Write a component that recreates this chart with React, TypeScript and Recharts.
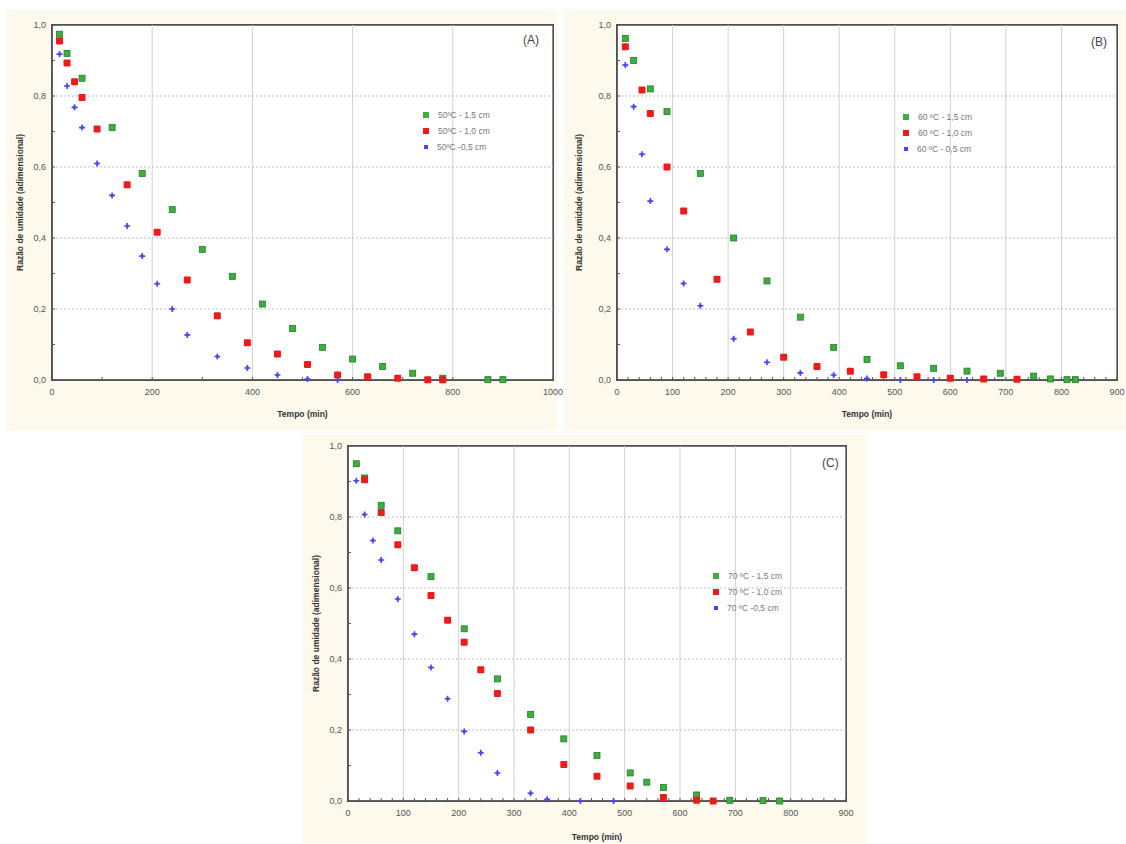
import { ScatterChart, Scatter, XAxis, YAxis, Legend, ReferenceLine, ReferenceArea } from "recharts"

// ---- Painel (A) 50 ºC ----
const tempoA15 = [15, 30, 60, 120, 180, 240, 300, 360, 420, 480, 540, 600, 660, 720, 780, 870, 900]
const razaoA15 = [0.974, 0.92, 0.85, 0.711, 0.582, 0.48, 0.368, 0.292, 0.214, 0.145, 0.092, 0.059, 0.038, 0.019, 0.005, 0.001, 0.001]
const tempoA10 = [15, 30, 45, 60, 90, 150, 210, 270, 330, 390, 450, 510, 570, 630, 690, 750, 780]
const razaoA10 = [0.955, 0.893, 0.84, 0.796, 0.707, 0.55, 0.416, 0.282, 0.181, 0.105, 0.073, 0.044, 0.014, 0.009, 0.005, 0.001, 0.001]
const tempoA05 = [15, 30, 45, 60, 90, 120, 150, 180, 210, 240, 270, 330, 390, 450, 510, 570]
const razaoA05 = [0.918, 0.828, 0.768, 0.711, 0.61, 0.52, 0.434, 0.349, 0.271, 0.2, 0.127, 0.066, 0.034, 0.014, 0.003, 0.0]

// ---- Painel (B) 60 ºC ----
const tempoB15 = [15, 30, 60, 90, 150, 210, 270, 330, 390, 450, 510, 570, 630, 690, 750, 780, 810, 825]
const razaoB15 = [0.962, 0.9, 0.82, 0.756, 0.582, 0.4, 0.279, 0.177, 0.092, 0.058, 0.04, 0.033, 0.025, 0.019, 0.011, 0.003, 0.001, 0.001]
const tempoB10 = [15, 45, 60, 90, 120, 180, 240, 300, 360, 420, 480, 540, 600, 660, 720]
const razaoB10 = [0.939, 0.817, 0.751, 0.6, 0.476, 0.284, 0.135, 0.064, 0.038, 0.025, 0.015, 0.009, 0.005, 0.003, 0.002]
const tempoB05 = [15, 30, 45, 60, 90, 120, 150, 210, 270, 330, 390, 450, 510, 570, 630]
const razaoB05 = [0.887, 0.77, 0.636, 0.504, 0.368, 0.272, 0.209, 0.116, 0.05, 0.02, 0.014, 0.004, 0.0, 0.0, 0.0]

// ---- Painel (C) 70 ºC ----
const tempoC15 = [15, 30, 60, 90, 150, 210, 270, 330, 390, 450, 510, 540, 570, 630, 690, 750, 780]
const razaoC15 = [0.95, 0.91, 0.833, 0.761, 0.632, 0.485, 0.344, 0.244, 0.175, 0.128, 0.079, 0.053, 0.038, 0.017, 0.002, 0.001, 0.0]
const tempoC10 = [30, 60, 90, 120, 150, 180, 210, 240, 270, 330, 390, 450, 510, 570, 630, 660]
const razaoC10 = [0.905, 0.813, 0.722, 0.657, 0.579, 0.509, 0.447, 0.37, 0.303, 0.2, 0.103, 0.07, 0.042, 0.01, 0.002, 0.0]
const tempoC05 = [15, 30, 45, 60, 90, 120, 150, 180, 210, 240, 270, 330, 360, 420, 480]
const razaoC05 = [0.902, 0.807, 0.734, 0.679, 0.569, 0.47, 0.376, 0.288, 0.196, 0.136, 0.079, 0.022, 0.005, 0.0, 0.0]

// ---- eixos ----
const xTicksA = [0, 200, 400, 600, 800, 1000]
const xMinorA = [0, 100, 200, 300, 400, 500, 600, 700, 800, 900, 1000]
const xTicksBC = [0, 100, 200, 300, 400, 500, 600, 700, 800, 900]
const yTicks = [0, 0.2, 0.4, 0.6, 0.8, 1.0]
const yMinor = [0, 0.1, 0.2, 0.3, 0.4, 0.5, 0.6, 0.7, 0.8, 0.9, 1.0]

const legendA = ["50ºC - 1,5 cm", "50ºC - 1,0 cm", "50ºC -0,5 cm"]
const legendB = ["60 ºC - 1,5 cm", "60 ºC - 1,0 cm", "60 ºC - 0,5 cm"]
const legendC = ["70 ºC - 1,5 cm", "70 ºC - 1,0 cm", "70 ºC -0,5 cm"]

const CREAM = "#fdf9ec"
const GREEN = "#3fae3f"
const RED = "#f01a1a"
const BLUE = "#4646ff"
const FONT = "'Liberation Sans', Arial, sans-serif"

const range = (max: number, step: number) => {
  const out: number[] = []
  for (let v = 0; v <= max; v += step) out.push(v)
  return out
}
const xMinorBC = range(900, 20)

const toPoints = (t: number[], r: number[]) => t.map((v, i) => ({ t: v, r: r[i] }))

function Marker(props: any) {
  const { cx, cy, kind } = props
  if (cx == null || cy == null) return <g />
  if (kind === "plus") {
    return (
      <g>
        <path d={`M${cx - 3},${cy}H${cx + 3}M${cx},${cy - 3}V${cy + 3}`} stroke={BLUE} strokeWidth={1.6} />
        <rect x={cx - 1.3} y={cy - 1.3} width={2.6} height={2.6} fill={BLUE} />
      </g>
    )
  }
  if (kind === "green") {
    return <rect x={cx - 3} y={cy - 3} width={6} height={6} fill={GREEN} stroke="#1f7f2a" strokeWidth={0.8} />
  }
  return <rect x={cx - 3.5} y={cy - 3.5} width={7} height={7} rx={1} fill={RED} />
}

function XTick(props: any) {
  const { x, y, payload, majors } = props
  if (!majors.includes(payload.value)) return <g />
  return (
    <text x={x} y={y} dy={8} textAnchor="middle" fontSize={9} fill="#555" fontFamily={FONT}>
      {payload.value}
    </text>
  )
}

function YTick(props: any) {
  const { x, y, payload } = props
  const v = payload.value
  if (Math.abs(v * 5 - Math.round(v * 5)) > 1e-6) return <g />
  return (
    <text x={x} y={y} dy={3} textAnchor="end" fontSize={9} fill="#555" fontFamily={FONT}>
      {v.toFixed(1).replace(".", ",")}
    </text>
  )
}

function renderLegend(props: any, order: string[]) {
  const payload = [...(props.payload || [])].sort(
    (a: any, b: any) => order.indexOf(a.value) - order.indexOf(b.value)
  )
  return (
    <div style={{ fontFamily: FONT, fontSize: 8.5, color: "#777" }}>
      {payload.map((e: any) => (
        <div key={e.value} style={{ display: "flex", alignItems: "center", height: 16 }}>
          <span
            style={{
              display: "inline-block",
              width: e.color === BLUE ? 4 : 6,
              height: e.color === BLUE ? 4 : 6,
              background: e.color,
              marginRight: 9,
              marginLeft: e.color === BLUE ? 1 : 0,
            }}
          />
          <span>{e.value}</span>
        </div>
      ))}
    </div>
  )
}

interface SeriesDef {
  name: string
  data: { t: number; r: number }[]
  color: string
  kind: string
}

interface PanelProps {
  left: number
  top: number
  width: number
  height: number
  plotLeft: number
  plotTop: number
  plotRight: number
  plotBottom: number
  xMax: number
  xTicks: number[]
  xMinor: number[]
  series: SeriesDef[]
  legendLeft: number
  legendTop: number
  tag: string
  tagLeft: number
  tagTop: number
  yTitleOffset: number
  xTitleOffset: number
}

function Panel(p: PanelProps) {
  const axisStroke = { stroke: "#505050", strokeWidth: 1.2 }
  const tickStroke = { stroke: "#555" }
  const order = p.series.map((s) => s.name)
  const innerX = p.xTicks.filter((v) => v > 0 && v < p.xMax)
  const innerY = yTicks.filter((v) => v > 0 && v < 1)
  return (
    <div style={{ position: "absolute", left: p.left, top: p.top, width: p.width, height: p.height, background: CREAM }}>
      {/* white plot background + frame, behind the svg */}
      <div
        style={{
          position: "absolute",
          left: p.plotLeft - 1,
          top: p.plotTop - 1,
          width: p.plotRight - p.plotLeft + 2,
          height: p.plotBottom - p.plotTop + 2,
          boxSizing: "border-box",
          border: "1.5px solid #555",
          background: "#fff",
        }}
      />
      <div style={{ position: "absolute", left: 0, top: 0 }}>
        <ScatterChart
          width={p.width}
          height={p.height}
          margin={{ top: p.plotTop, right: p.width - p.plotRight, left: 0, bottom: 0 }}
        >
          {innerX.map((v) => (
            <ReferenceLine key={"vx" + v} xAxisId="x" yAxisId="y" x={v} stroke="#d2d2d2" strokeWidth={1} />
          ))}
          {innerY.map((v) => (
            <ReferenceLine key={"hy" + v} xAxisId="x" yAxisId="y" y={v} stroke="#bdbdbd" strokeDasharray="2 2" />
          ))}
          <ReferenceArea
            xAxisId="x"
            yAxisId="y"
            x1={0}
            x2={p.xMax}
            y1={0}
            y2={1}
            fill="none"
            fillOpacity={0}
            stroke="#4f4f4f"
            strokeWidth={1.3}
            ifOverflow="visible"
          />
          <XAxis
            xAxisId="x"
            type="number"
            dataKey="t"
            domain={[0, p.xMax]}
            ticks={p.xMinor}
            interval={0}
            tickSize={-3}
            tickMargin={10}
            height={p.height - p.plotBottom}
            tick={<XTick majors={p.xTicks} />}
            axisLine={axisStroke}
            tickLine={tickStroke}
            label={{
              value: "Tempo (min)",
              position: "insideBottom",
              offset: p.xTitleOffset,
              style: { fontSize: 8.5, fontWeight: "bold", fill: "#333", fontFamily: FONT },
            }}
          />
          <XAxis
            xAxisId="top"
            orientation="top"
            type="number"
            domain={[0, p.xMax]}
            ticks={p.xMinor}
            interval={0}
            tick={false}
            tickSize={-3}
            height={0}
            axisLine={axisStroke}
            tickLine={tickStroke}
          />
          <YAxis
            yAxisId="y"
            type="number"
            dataKey="r"
            domain={[0, 1]}
            ticks={yMinor}
            interval={0}
            tickSize={-3}
            tickMargin={9}
            width={p.plotLeft}
            tick={<YTick />}
            axisLine={axisStroke}
            tickLine={tickStroke}
            label={{
              value: "Razão de umidade (adimensional)",
              angle: -90,
              position: "insideLeft",
              offset: p.yTitleOffset,
              style: { textAnchor: "middle", fontSize: 8.5, fontWeight: "bold", fill: "#333", fontFamily: FONT },
            }}
          />
          <YAxis
            yAxisId="right"
            orientation="right"
            type="number"
            domain={[0, 1]}
            ticks={yMinor}
            interval={0}
            tick={false}
            tickSize={-3}
            width={0}
            axisLine={axisStroke}
            tickLine={tickStroke}
          />
          {p.series.map((s) => (
            <Scatter
              key={s.name}
              name={s.name}
              xAxisId="x"
              yAxisId="y"
              data={s.data}
              fill={s.color}
              legendType="square"
              shape={(props: any) => <Marker {...props} kind={s.kind} />}
              isAnimationActive={false}
            />
          ))}
          <Legend
            layout="vertical"
            align="center"
            verticalAlign="middle"
            content={(props: any) => renderLegend(props, order)}
            wrapperStyle={{ left: p.legendLeft, top: p.legendTop, width: "auto", height: "auto" }}
          />
        </ScatterChart>
      </div>
      <div
        style={{
          position: "absolute",
          left: p.tagLeft,
          top: p.tagTop,
          fontFamily: FONT,
          fontSize: 12,
          color: "#444",
          lineHeight: "12px",
        }}
      >
        {p.tag}
      </div>
    </div>
  )
}

export default function App() {
  const seriesA: SeriesDef[] = [
    { name: legendA[0], data: toPoints(tempoA15, razaoA15), color: GREEN, kind: "green" },
    { name: legendA[1], data: toPoints(tempoA10, razaoA10), color: RED, kind: "red" },
    { name: legendA[2], data: toPoints(tempoA05, razaoA05), color: BLUE, kind: "plus" },
  ]
  const seriesB: SeriesDef[] = [
    { name: legendB[0], data: toPoints(tempoB15, razaoB15), color: GREEN, kind: "green" },
    { name: legendB[1], data: toPoints(tempoB10, razaoB10), color: RED, kind: "red" },
    { name: legendB[2], data: toPoints(tempoB05, razaoB05), color: BLUE, kind: "plus" },
  ]
  const seriesC: SeriesDef[] = [
    { name: legendC[0], data: toPoints(tempoC15, razaoC15), color: GREEN, kind: "green" },
    { name: legendC[1], data: toPoints(tempoC10, razaoC10), color: RED, kind: "red" },
    { name: legendC[2], data: toPoints(tempoC05, razaoC05), color: BLUE, kind: "plus" },
  ]

  return (
    <div style={{ position: "absolute", left: 0, top: 0, width: 1126, height: 844, background: "#fff", overflow: "hidden" }}>
      <style>{`.recharts-surface { overflow: visible; }`}</style>
      <Panel
        left={6}
        top={10}
        width={551}
        height={420}
        plotLeft={46}
        plotTop={15}
        plotRight={547}
        plotBottom={370}
        xMax={1000}
        xTicks={xTicksA}
        xMinor={xMinorA}
        series={seriesA}
        legendLeft={417}
        legendTop={97}
        tag="(A)"
        tagLeft={517}
        tagTop={24}
        yTitleOffset={14}
        xTitleOffset={13}
      />
      <Panel
        left={564}
        top={10}
        width={562}
        height={420}
        plotLeft={53}
        plotTop={15}
        plotRight={553}
        plotBottom={370}
        xMax={900}
        xTicks={xTicksBC}
        xMinor={xMinorBC}
        series={seriesB}
        legendLeft={339}
        legendTop={99}
        tag="(B)"
        tagLeft={527}
        tagTop={26}
        yTitleOffset={15}
        xTitleOffset={13}
      />
      <Panel
        left={302}
        top={435}
        width={564}
        height={409}
        plotLeft={46}
        plotTop={11}
        plotRight={544}
        plotBottom={366}
        xMax={900}
        xTicks={xTicksBC}
        xMinor={xMinorBC}
        series={seriesC}
        legendLeft={411}
        legendTop={133}
        tag="(C)"
        tagLeft={520}
        tagTop={22}
        yTitleOffset={14}
        xTitleOffset={4}
      />
    </div>
  )
}
